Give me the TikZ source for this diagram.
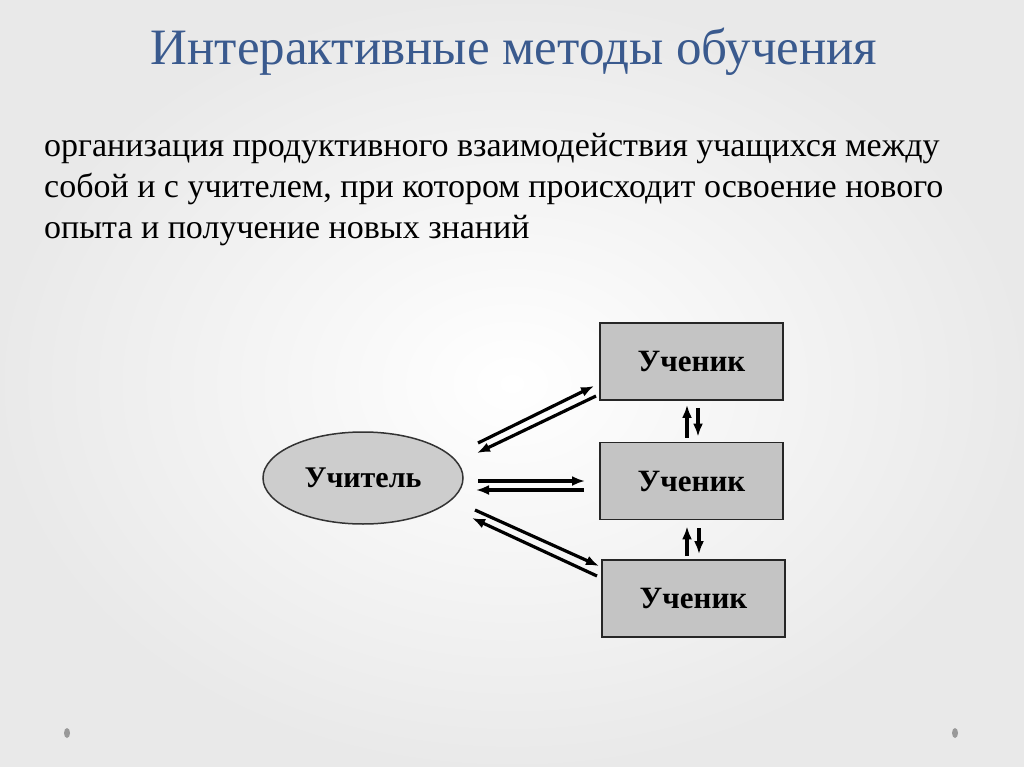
\documentclass[tikz,border=0pt]{standalone}
\usepackage{fontspec}
\setmainfont{Liberation Serif}
\usepackage{tikz}
\usepackage{xcolor}
\usetikzlibrary{arrows.meta,shapes.geometric}
\definecolor{titleblue}{HTML}{3A5A8E}
\definecolor{boxgray}{HTML}{C4C4C4}
\tikzset{
    student-box/.style = {draw=black!85, fill=boxgray, line width=1.8pt, rectangle, minimum width=183pt, minimum height=77pt, font=\fontsize{31}{33}\selectfont\bfseries},
    teacher-oval/.style = {draw=black!80, fill=boxgray!85, line width=1.5pt, ellipse, minimum width=200pt, minimum height=92pt, font=\fontsize{30}{32}\selectfont\bfseries},
    link/.style = {line width=3.2pt, -{Latex[length=13pt,width=10pt]}},
}

\begin{document}
\begin{tikzpicture}[x=1pt,y=-1pt]
\useasboundingbox (0,0) rectangle (1024,767);
\shade[inner color=white, outer color=gray!17] (0,0) rectangle (1024,767);
\node[text=titleblue, font=\fontsize{51}{55}\selectfont] (title) at (514,52) {Интерактивные методы обучения};
\node[anchor=north west, align=left, inner sep=0pt, font=\fontsize{34}{41}\selectfont] (def) at (44,133) {организация продуктивного взаимодействия учащихся между\\собой и с учителем, при котором происходит освоение нового\\опыта и получение новых знаний};

\node[teacher-oval] (teacher) at (363,478) {Учитель};
\node[student-box] (s1) at (691.5,361.5) {Ученик};
\node[student-box] (s2) at (691.5,481) {Ученик};
\node[student-box] (s3) at (693.5,598.5) {Ученик};

% teacher <-> students
\coordinate (t1a) at (478,443); \coordinate (s1a) at (594,386);
\coordinate (s1b) at (596,396); \coordinate (t1b) at (477,453);
\coordinate (t2a) at (478,481); \coordinate (s2a) at (585,481);
\coordinate (s2b) at (584,490); \coordinate (t2b) at (476,490);
\coordinate (t3a) at (475,510); \coordinate (s3a) at (599,566);
\coordinate (s3b) at (597,576); \coordinate (t3b) at (472,518);
\draw[link] (t1a) -- (s1a);
\draw[link] (s1b) -- (t1b);
\draw[link] (t2a) -- (s2a);
\draw[link] (s2b) -- (t2b);
\draw[link] (t3a) -- (s3a);
\draw[link] (s3b) -- (t3b);

% students <-> students
\draw[link] ([xshift=-4.5pt,yshift=-37pt]s1.south) -- ([xshift=-4.5pt,yshift=-4pt]s1.south);
\draw[link] ([xshift=6.5pt,yshift=-7pt]s1.south) -- ([xshift=6.5pt,yshift=5pt]s2.north);
\draw[link] ([xshift=-6.5pt,yshift=3pt]s3.north) -- ([xshift=-4.5pt,yshift=-6pt]s2.south);
\draw[link] ([xshift=7.5pt,yshift=-8pt]s2.south) -- ([xshift=5.5pt,yshift=5pt]s3.north);

\fill[gray!80] (67,733) ellipse (3pt and 5pt);
\fill[gray!80] (955,733) ellipse (3pt and 5pt);
\end{tikzpicture}
\end{document}
